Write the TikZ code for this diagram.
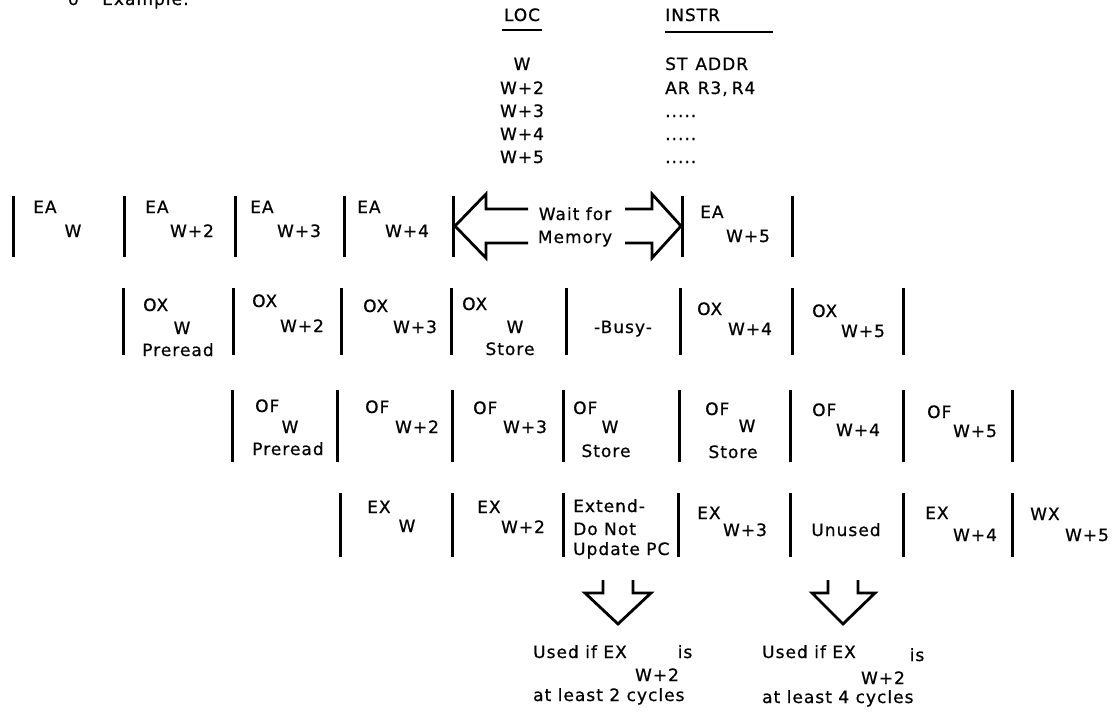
\documentclass[tikz,border=0pt]{standalone}
\usepackage{fontspec}
\newfontfamily\lf{DejaVu Sans}[LetterSpace=6,FakeBold=0.7]
\begin{document}
\begin{tikzpicture}[x=1pt,y=-1pt,
  tl/.style={font=\lf\fontsize{17}{17}\selectfont, inner sep=0pt, anchor=base west},
  tc/.style={font=\lf\fontsize{17}{17}\selectfont, inner sep=0pt, anchor=base},
  bar/.style={line width=3pt},
  arr/.style={line width=2.8pt, line join=miter}]
\useasboundingbox (0,0) rectangle (1119,712);
% header
\node[tl] (ex0) at (68,5) {o};
\node[tl] (ex1) at (102,5) {Example:};
\node[tc] (loc) at (522,21) {LOC};
\draw[line width=2.5pt] (502,30) -- (542,30);
\node[tl] (instr) at (665,21) {INSTR};
\draw[line width=2.5pt] (665,32) -- (773,32);
\node[tc] (l1) at (522,70) {W};
\node[tc] (l2) at (522,94) {W+2};
\node[tc] (l3) at (522,117) {W+3};
\node[tc] (l4) at (522,140) {W+4};
\node[tc] (l5) at (522,163) {W+5};
\node[tl] (i1) at (665,70) {ST\hspace{8pt}ADDR};
\node[tl] (i2) at (665,94) {AR\hspace{8pt}R3,\hspace{4pt}R4};
\node[tl] (i3) at (665,117) {.....};
\node[tl] (i4) at (665,140) {.....};
\node[tl] (i5) at (665,163) {.....};
% row 1 EA
\foreach \x in {13,124,235,344,453,682,792} \draw[bar] (\x,196) -- (\x,257);
\node[tl] (a1) at (33,213) {EA};  \node[tc] (a1s) at (73,237) {W};
\node[tl] (a2) at (145,213) {EA}; \node[tc] (a2s) at (192,237) {W+2};
\node[tl] (a3) at (250,213) {EA}; \node[tc] (a3s) at (299,237) {W+3};
\node[tl] (a4) at (357,213) {EA}; \node[tc] (a4s) at (407,237) {W+4};
\node[tl] (a6) at (700,218) {EA}; \node[tc] (a6s) at (748,242) {W+5};
\draw[arr] (528,209) -- (486,209) -- (486,194) -- (455,226) -- (486,258) -- (486,243) -- (528,243);
\draw[arr] (625,209) -- (652,209) -- (652,194) -- (681,226) -- (652,258) -- (652,243) -- (625,243);
\node[tc] (wait) at (575,220) {Wait for};
\node[tc] (mem) at (575,243) {Memory};
% row 2 OX
\foreach \x in {123,233,341,451,566,680,792,903} \draw[bar] (\x,288) -- (\x,355);
\node[tl] (b1) at (143,311) {OX}; \node[tc] (b1s) at (182,334) {W}; \node[tc] (b1t) at (178,356) {Preread};
\node[tl] (b2) at (252,307) {OX}; \node[tc] (b2s) at (302,332) {W+2};
\node[tl] (b3) at (363,312) {OX}; \node[tc] (b3s) at (415,333) {W+3};
\node[tl] (b4) at (462,310) {OX}; \node[tc] (b4s) at (515,333) {W}; \node[tc] (b4t) at (510,355) {Store};
\node[tc] (busy) at (623,333) {-Busy-};
\node[tl] (b6) at (697,315) {OX}; \node[tc] (b6s) at (750,335) {W+4};
\node[tl] (b7) at (812,317) {OX}; \node[tc] (b7s) at (863,337) {W+5};
% row 3 OF
\foreach \x in {232,337,452,563,679,790,903,1012} \draw[bar] (\x,390) -- (\x,462);
\node[tl] (c1) at (255,412) {OF}; \node[tc] (c1s) at (290,433) {W}; \node[tc] (c1t) at (288,455) {Preread};
\node[tl] (c2) at (365,413) {OF}; \node[tc] (c2s) at (417,433) {W+2};
\node[tl] (c3) at (473,414) {OF}; \node[tc] (c3s) at (525,433) {W+3};
\node[tl] (c4) at (573,414) {OF}; \node[tc] (c4s) at (610,433) {W}; \node[tc] (c4t) at (606,457) {Store};
\node[tl] (c5) at (705,415) {OF}; \node[tc] (c5s) at (747,432) {W}; \node[tc] (c5t) at (733,458) {Store};
\node[tl] (c6) at (812,416) {OF}; \node[tc] (c6s) at (858,436) {W+4};
\node[tl] (c7) at (927,418) {OF}; \node[tc] (c7s) at (975,437) {W+5};
% row 4 EX
\foreach \x in {340,452,563,678,790,903,1012} \draw[bar] (\x,493) -- (\x,557);
\node[tl] (d1) at (367,513) {EX}; \node[tc] (d1s) at (407,532) {W};
\node[tl] (d2) at (477,513) {EX}; \node[tc] (d2s) at (523,533) {W+2};
\node[tl] (d3a) at (573,512) {Extend-};
\node[tl] (d3b) at (573,535) {Do Not};
\node[tl] (d3c) at (573,555) {Update PC};
\node[tl] (d4) at (697,519) {EX}; \node[tc] (d4s) at (745,536) {W+3};
\node[tc] (unused) at (846,536) {Unused};
\node[tl] (d6) at (925,519) {EX}; \node[tc] (d6s) at (975,541) {W+4};
\node[tl] (d7) at (1030,520) {WX}; \node[tc] (d7s) at (1087,541) {W+5};
% down arrows
\draw[arr] (603,580) -- (603,593) -- (585,593) -- (618,624) -- (651,593) -- (633,593) -- (633,580);
\draw[arr] (828,580) -- (828,593) -- (812,593) -- (843,624) -- (875,593) -- (858,593) -- (858,580);
% notes
\node[tl] (u1) at (533,658) {Used if EX};
\node[tc] (u1i) at (685,658) {is};
\node[tc] (u1s) at (657,681) {W+2};
\node[tl] (u1l) at (533,701) {at least 2 cycles};
\node[tl] (u2) at (762,658) {Used if EX};
\node[tc] (u2i) at (917,661) {is};
\node[tc] (u2s) at (883,684) {W+2};
\node[tl] (u2l) at (762,703) {at least 4 cycles};
\end{tikzpicture}
\end{document}
